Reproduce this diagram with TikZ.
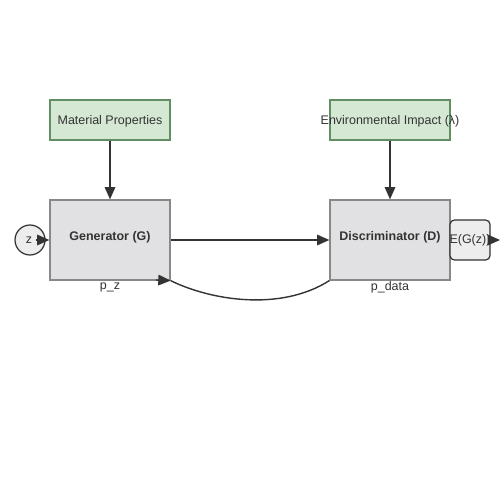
\documentclass[tikz,border=0pt]{standalone}
\usepackage{fontspec}
\setmainfont{Liberation Sans}
\usetikzlibrary{arrows.meta}
\definecolor{gfill}{HTML}{D5E8D4}
\definecolor{gdraw}{HTML}{5F8F63}
\definecolor{bfill}{HTML}{E1E1E3}
\definecolor{bdraw}{HTML}{888888}
\definecolor{ink}{HTML}{333333}
\begin{document}
\begin{tikzpicture}[x=0.02cm,y=-0.02cm,
  every node/.style={font=\fontsize{7.1}{8}\selectfont, text=ink, inner sep=0pt},
  greenbox/.style={draw=gdraw, fill=gfill, line width=0.7pt, minimum width=2.4cm, minimum height=0.8cm},
  graybox/.style={draw=bdraw, fill=bfill, line width=0.7pt, minimum width=2.4cm, minimum height=1.6cm},
  conn/.style={draw=ink, line width=0.8pt, -{Triangle[length=7pt,width=6pt]}}]
\useasboundingbox (0,0) rectangle (500,500);
\node[greenbox] (mat) at (110,120) {};
\node (matl) at (110,121.5) {Material Properties};
\node[greenbox] (env) at (390,120) {};
\node (envl) at (390,121.5) {Environmental Impact (λ)};
\node[graybox] (gen) at (110,240) {};
\node[font=\fontsize{7.1}{8}\selectfont\bfseries] (genl) at (110,237) {Generator (G)};
\node[graybox] (dis) at (390,240) {};
\node[font=\fontsize{7.1}{8}\selectfont\bfseries] (disl) at (390,237) {Discriminator (D)};
\node[draw=ink, fill=bfill!60, circle, minimum size=0.6cm, line width=0.7pt] (z) at (30,240) {};
\node (zl) at (29,240) {z};
\node[draw=ink, fill=bfill!60, rounded corners=2.5pt, minimum width=0.8cm, minimum height=0.8cm, line width=0.7pt] (e) at (470,240) {};
\node (el) at (470,240) {E(G(z))};
\coordinate (eout) at (500,240);
\node (pz) at (110,287) {p\_z};
\node (pd) at (390,287) {p\_data};
\coordinate (zs) at (36,240);
\coordinate (ga) at (156,280);
\draw[conn] (mat) -- (gen);
\draw[conn] (env) -- (dis);
\draw[conn] (zs) -- (gen.west);
\draw[conn] (gen.east) -- (dis.west);
\draw[conn] (e.east) -- (eout);
\draw[draw=ink, line width=0.8pt] (gen.south east) .. controls (210,300) and (280,312) .. (dis.south west);
\draw[conn] (ga) -- (gen.south east);
\end{tikzpicture}
\end{document}
